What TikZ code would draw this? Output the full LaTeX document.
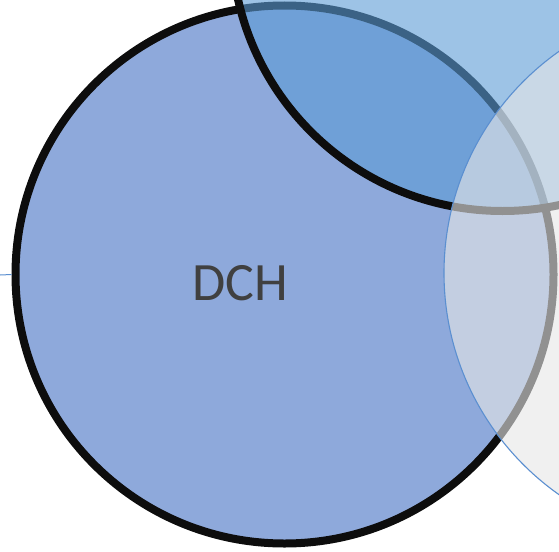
\documentclass[tikz,border=0pt]{standalone}
\usepackage{fontspec}
\setmainfont{Carlito}
\begin{document}
\begin{tikzpicture}[x=1pt,y=-1pt,
  setA/.style={circle,inner sep=0pt,minimum size=538pt,fill=fillA,draw=strokeK,line width=8pt},
  setB/.style={circle,inner sep=0pt,minimum size=542pt,fill=fillB,fill opacity=0.6,draw=strokeK,draw opacity=1,line width=8pt},
  setC/.style={circle,inner sep=0pt,minimum size=542pt,fill=fillC,fill opacity=0.61,draw=edgeC,draw opacity=1,line width=1.1pt},
  lbl/.style={text=textG,font=\fontsize{54}{60}\selectfont,inner sep=0pt}]
\definecolor{fillA}{HTML}{8EA9DB}
\definecolor{fillB}{HTML}{5B9BD5}
\definecolor{fillC}{HTML}{E6E6E6}
\definecolor{strokeK}{HTML}{0D0D0D}
\definecolor{edgeC}{HTML}{5B8FD0}
\definecolor{textG}{HTML}{404040}
\useasboundingbox (0,0) rectangle (559,551);
\begin{scope}
\clip (0,0) rectangle (559,551);
\node[setA] (A) at (284.5,274.5) {};
\node[setB] (B) at (502.5,-60) {};
\node[setC] (C) at (715,273) {};
\coordinate (L) at (0,275);
\draw[edgeC,line width=1pt] (L) -- (A.west);
\node[lbl] (t) at (240.5,283) {DCH};
\end{scope}
\end{tikzpicture}
\end{document}
